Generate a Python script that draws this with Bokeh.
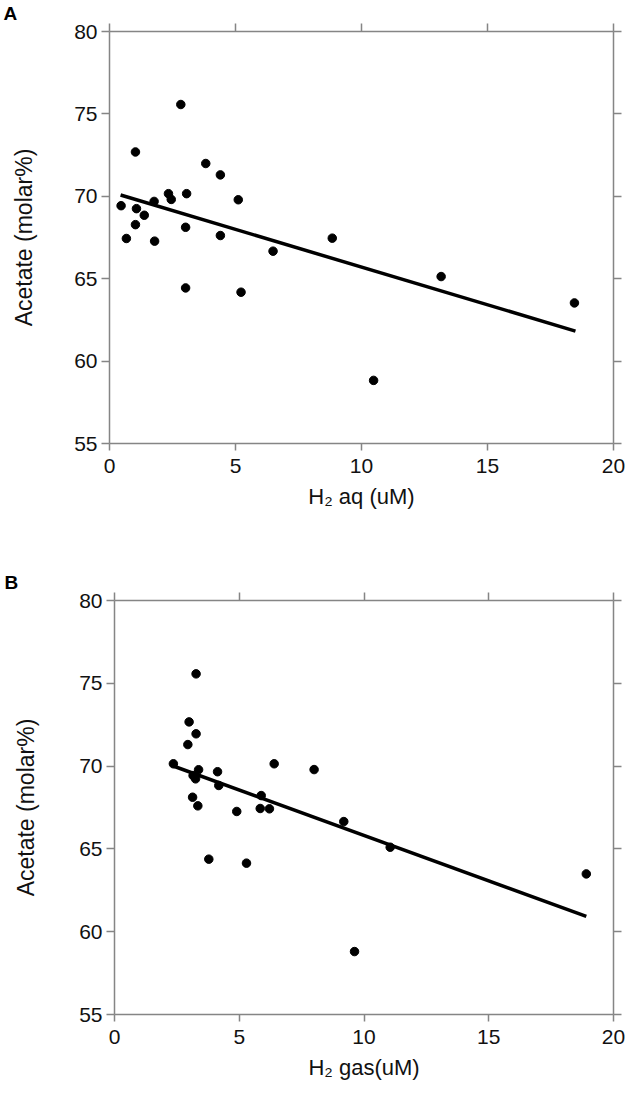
from bokeh.plotting import figure
from bokeh.models import Range1d, LinearAxis, FixedTicker, Title
from bokeh.embed import file_html
from bokeh.resources import INLINE

# ---- data panel A (H2 aq) ----
a_x = [0.46, 0.67, 1.03, 1.07, 1.03, 1.38, 1.77, 1.79, 2.34, 2.45, 2.83, 3.06,
       3.02, 3.02, 3.82, 4.40, 4.40, 5.11, 5.22, 6.49, 8.84, 13.16, 18.45, 10.48]
a_y = [69.43, 67.44, 72.69, 69.25, 68.28, 68.85, 69.69, 67.28, 70.16, 69.81, 75.57, 70.16,
       68.12, 64.44, 71.99, 71.30, 67.62, 69.79, 64.18, 66.67, 67.46, 65.13, 63.53, 58.83]
a_fit_x = [0.44, 18.49]
a_fit_y = [70.08, 61.82]

# ---- data panel B (H2 gas) ----
b_x = [2.36, 3.27, 2.99, 3.27, 2.94, 3.37, 3.15, 3.25, 4.13, 4.18, 3.13, 3.34,
       4.90, 5.88, 5.84, 6.21, 6.40, 8.00, 9.19, 3.78, 5.29, 11.05, 18.91, 9.62]
b_y = [70.14, 75.57, 72.67, 71.95, 71.30, 69.78, 69.43, 69.23, 69.66, 68.83, 68.12, 67.60,
       67.26, 68.22, 67.44, 67.42, 70.14, 69.79, 66.65, 64.38, 64.14, 65.10, 63.49, 58.80]
b_fit_x = [2.38, 18.91]
b_fit_y = [69.99, 60.92]

x_ticks = [0, 5, 10, 15, 20]
y_ticks = [55, 60, 65, 70, 75, 80]

FONT = "Liberation Sans"
AXC = "#858585"
TXT = "#111111"


def make_panel(xs, ys, fx, fy, xlabel, letter, letter_offset,
               height, top, bottom, left, right, width, ystand):
    p = figure(width=width, height=height, output_backend="svg", toolbar_location=None,
               x_range=Range1d(0, 20), y_range=Range1d(55, 80),
               min_border_top=top, min_border_bottom=bottom,
               min_border_left=left, min_border_right=right)
    p.outline_line_color = None
    p.xgrid.visible = False
    p.ygrid.visible = False
    p.background_fill_color = "white"
    p.border_fill_color = "white"

    xa = p.xaxis[0]
    ya = p.yaxis[0]
    xa.ticker = FixedTicker(ticks=x_ticks)
    ya.ticker = FixedTicker(ticks=y_ticks)
    for ax, to in ((xa, 7), (ya, 8)):
        ax.axis_line_color = AXC
        ax.axis_line_width = 1.5
        ax.major_tick_line_color = AXC
        ax.major_tick_line_width = 1.5
        ax.major_tick_in = 0
        ax.major_tick_out = to
        ax.minor_tick_line_color = None
        ax.major_label_text_font = FONT
        ax.major_label_text_font_size = "21px"
        ax.major_label_text_color = TXT
        ax.axis_label_text_font = FONT
        ax.axis_label_text_font_style = "normal"
        ax.axis_label_text_color = TXT
    xa.major_label_standoff = 8
    ya.major_label_standoff = 4
    xa.axis_label = xlabel
    xa.axis_label_text_font_size = "22px"
    xa.axis_label_standoff = 8
    ya.axis_label = "Acetate (molar%)"
    ya.axis_label_text_font_size = "23px"
    ya.axis_label_standoff = ystand

    ta = LinearAxis(ticker=FixedTicker(ticks=x_ticks),
                    major_label_overrides={t: "" for t in x_ticks})
    ra = LinearAxis(ticker=FixedTicker(ticks=y_ticks),
                    major_label_overrides={t: "" for t in y_ticks})
    for ax in (ta, ra):
        ax.axis_line_color = AXC
        ax.axis_line_width = 1.5
        ax.major_tick_line_color = AXC
        ax.major_tick_line_width = 1.5
        ax.major_tick_in = 0
        ax.major_tick_out = 8
        ax.minor_tick_line_color = None
        ax.major_label_text_font_size = "1px"
        ax.major_label_standoff = 0
    p.add_layout(ta, "above")
    p.add_layout(ra, "right")

    p.line(fx, fy, line_color="black", line_width=3.5)
    p.scatter(xs, ys, size=8.5, fill_color="black", line_color="black")

    t = Title(text=letter, align="left", offset=letter_offset, text_font=FONT,
              text_font_size="19px", text_font_style="bold", text_color="black",
              standoff=0)
    p.add_layout(t, "above")
    return p


# panel A: frame left 109, right 613, top 29, bottom 443
pa = make_panel(a_x, a_y, a_fit_x, a_fit_y, "H\u2082 aq (uM)", "A", -106,
                height=560, top=29, bottom=117, left=109, right=17, width=630, ystand=34)
# panel B: frame left 114, right 613, top 600, bottom 1014 (canvas starts at 560)
pb = make_panel(b_x, b_y, b_fit_x, b_fit_y, "H\u2082 gas(uM)", "B", -110,
                height=535, top=40, bottom=81, left=114, right=17, width=630, ystand=37)

open("out.html", "w").write(file_html((pa, pb), INLINE))
